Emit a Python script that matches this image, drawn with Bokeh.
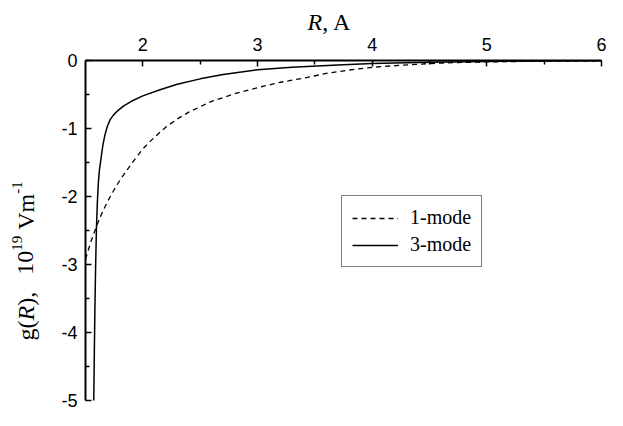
import math
from bokeh.plotting import figure
from bokeh.models import FixedTicker, Label, Legend, LegendItem, Range1d, LinearAxis
from bokeh.embed import file_html
from bokeh.resources import INLINE

# ---- data ----
r_1mode = [1.5, 1.55, 1.6, 1.65, 1.7, 1.75, 1.8, 1.9, 2.0, 2.1, 2.2, 2.3, 2.4, 2.6, 2.8,
           3.0, 3.2, 3.4, 3.6, 3.8, 4.0, 4.25, 4.5, 4.75, 5.0, 5.5, 6.0]
g_1mode = [-2.92, -2.65, -2.42, -2.22, -2.05, -1.90, -1.76, -1.52, -1.30, -1.13, -0.98, -0.86,
           -0.76, -0.60, -0.49, -0.40, -0.32, -0.26, -0.19, -0.14, -0.10, -0.07, -0.045, -0.03,
           -0.02, -0.01, -0.005]

r_3mode = [1.572, 1.577, 1.582, 1.588, 1.595, 1.603, 1.612, 1.622, 1.637, 1.652, 1.67, 1.69,
           1.715, 1.745, 1.78, 1.83, 1.90, 2.00, 2.15, 2.30, 2.50, 2.70, 3.00, 3.30, 3.70,
           4.00, 4.50, 5.00, 5.50, 6.00]
g_3mode = [-5.0, -4.3, -3.65, -3.05, -2.5, -2.1, -1.8, -1.6, -1.42, -1.24, -1.09, -0.97,
           -0.87, -0.80, -0.74, -0.67, -0.60, -0.52, -0.43, -0.35, -0.27, -0.205, -0.135,
           -0.10, -0.065, -0.045, -0.025, -0.015, -0.008, -0.004]

series_labels = ["1-mode", "3-mode"]

x_ticks = [2, 3, 4, 5, 6]
x_tick_labels = ["2", "3", "4", "5", "6"]
x_minor = [2.5, 3.5, 4.5, 5.5]
y_ticks = [0, -1, -2, -3, -4, -5]
y_tick_labels = ["0", "-1", "-2", "-3", "-4", "-5"]
y_minor = [-0.5, -1.5, -2.5, -3.5, -4.5]

x_title = ["R", ", A"]
y_title = ["g(", "R", "),", "10", "19", "Vm", "-1"]

# ---- layout in canvas pixels ----
W, H = 607, 410
FL, FR, FT, FB = 85, 601, 60, 400      # where the axes box sits on the canvas
XMIN, XMAX, YMIN, YMAX = 1.5, 6.0, -5.0, 0.0
xs = (XMAX - XMIN) / (FR - FL)          # data per px
ys = (YMAX - YMIN) / (FB - FT)

def cx_to_data(cx):
    return XMIN + (cx - FL) * xs

def cy_to_data(cy):
    return YMAX - (cy - FT) * ys

p = figure(width=W, height=H,
           x_range=Range1d(cx_to_data(0), cx_to_data(W)),
           y_range=Range1d(cy_to_data(H), cy_to_data(0)),
           x_axis_location=None, y_axis_location=None,
           toolbar_location=None, output_backend="svg",
           min_border_left=0, min_border_right=0, min_border_top=0, min_border_bottom=0)
p.grid.visible = False
p.outline_line_color = None
p.background_fill_color = "white"
p.border_fill_color = "white"

xa = LinearAxis(fixed_location=YMAX, bounds=(XMIN, XMAX),
                ticker=FixedTicker(ticks=x_ticks, minor_ticks=x_minor),
                major_label_overrides=dict(zip(x_ticks, x_tick_labels)))
ya = LinearAxis(fixed_location=XMIN, bounds=(YMIN, YMAX),
                ticker=FixedTicker(ticks=y_ticks, minor_ticks=y_minor),
                major_label_overrides=dict(zip(y_ticks, y_tick_labels)))

for ax in (xa, ya):
    ax.axis_line_color = "black"
    ax.axis_line_width = 2
    ax.major_tick_in = 6
    ax.major_tick_out = 0
    ax.minor_tick_in = 4
    ax.minor_tick_out = 0
    ax.major_tick_line_color = "black"
    ax.major_tick_line_width = 1.5
    ax.minor_tick_line_color = "black"
    ax.minor_tick_line_width = 1.5
    ax.major_label_text_font = "Liberation Sans"
    ax.major_label_text_font_size = "18px"
    ax.major_label_text_color = "black"
xa.major_label_standoff = 10
ya.major_label_standoff = 8
p.add_layout(xa, "above")
p.add_layout(ya, "left")

r1 = p.line(r_1mode, g_1mode, line_color="black", line_width=1.3, line_dash="5 4")
r3 = p.line(r_3mode, g_3mode, line_color="black", line_width=1.5)

legend = Legend(items=[LegendItem(label=series_labels[0], renderers=[r1]),
                       LegendItem(label=series_labels[1], renderers=[r3])],
                location=(341, 143), orientation="vertical",
                label_text_font="Liberation Serif", label_text_font_size="20px",
                label_text_color="black", glyph_width=46, glyph_height=20,
                label_height=20, label_standoff=12, padding=10, spacing=4, margin=0,
                border_line_color="black", border_line_width=1,
                background_fill_color="white", background_fill_alpha=1.0)
p.add_layout(legend)

serif = "Liberation Serif"

# x title: "R" italic + ", A"
tx, ty = 307.0, 21.0
p.add_layout(Label(x=cx_to_data(tx), y=cy_to_data(ty), text=x_title[0], text_font=serif,
                   text_font_style="italic", text_font_size="24px", text_align="left",
                   text_baseline="alphabetic", text_color="black"))
p.add_layout(Label(x=cx_to_data(tx + 14.7), y=cy_to_data(ty), text=x_title[1],
                   text_font=serif, text_font_size="24px", text_align="left",
                   text_baseline="alphabetic", text_color="black"))

# y title, rotated, pieces placed bottom to top
base_cx = 25.0
sup_cx = 16.0
def ylab(text, cy, italic=False, sup=False):
    p.add_layout(Label(x=cx_to_data(sup_cx if sup else base_cx), y=cy_to_data(cy), text=text,
                       angle=math.pi / 2, text_font=serif,
                       text_font_style="italic" if italic else "normal",
                       text_font_size="15px" if sup else "24px",
                       text_align="left", text_baseline="alphabetic", text_color="black"))

widths = [20.0, 14.7, 14.0, 24.0, 15.0, 36.0, 12.5]
gaps = [0, 0, 0, 17.0, 0, 6, 0]
flags = [(False, False), (True, False), (False, False), (False, False), (False, True),
         (False, False), (False, True)]
pos = 340.0
for t, w, g, (it, sp) in zip(y_title, widths, gaps, flags):
    pos -= g
    ylab(t, pos, italic=it, sup=sp)
    pos -= w

open("out.html", "w").write(file_html(p, INLINE))
